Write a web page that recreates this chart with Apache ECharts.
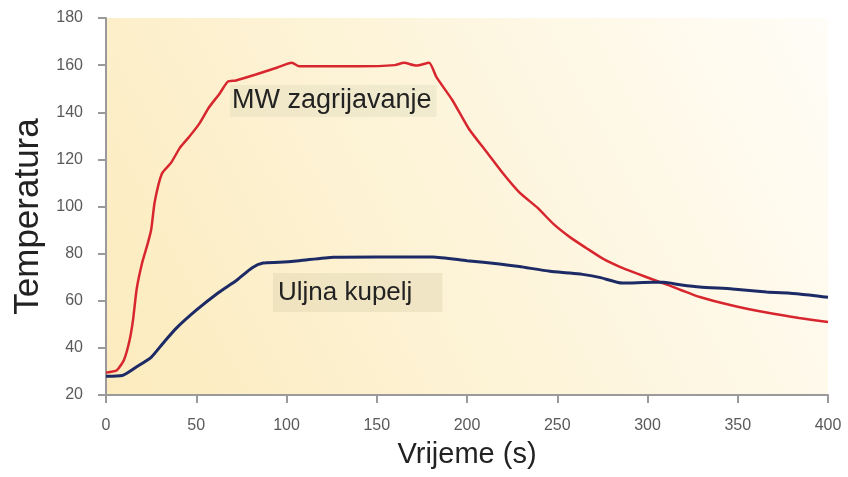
<!DOCTYPE html>
<html>
<head>
<meta charset="utf-8">
<script src="https://cdn.jsdelivr.net/npm/echarts@6/dist/echarts.min.js"></script>
<style>
  html, body { margin: 0; padding: 0; background: #fff; }
  #chart { width: 848px; height: 477px; }
</style>
</head>
<body>
<div id="chart"></div>
<script>
// MW heating curve (red)
var mwTime = [0, 6, 10, 13, 15, 17, 20, 23, 25, 27, 31, 36, 41, 46, 52, 57, 63, 67.5, 72, 83, 95, 103, 107, 120, 140, 160, 165, 172, 179, 183, 192, 201, 211, 220, 229, 239, 248, 257, 266, 275, 285, 294, 303, 312, 329, 347, 366, 384, 400];
var mwTemp = [29.5, 30.5, 35, 43, 52, 65, 76, 84, 90, 102, 114, 118.5, 125, 129.5, 135.5, 142, 148, 153, 153.5, 156, 159, 161, 159.5, 159.5, 159.5, 160, 161, 159.8, 161, 155, 145, 133, 123, 114, 106, 99.5, 92.5, 87, 82.4, 78, 74.3, 71.6, 69, 66.5, 61.6, 58, 55, 52.7, 51];

// oil bath curve (blue)
var oilTime = [0, 9, 17, 25, 31.6, 39, 50, 61.5, 72.6, 81, 87, 96, 107, 126, 150, 181, 200, 218, 229, 246, 257, 264, 274, 286, 303, 309, 318, 329, 347, 366, 384, 400];
var oilTemp = [28, 28.3, 32, 36, 42, 48.4, 56, 63, 68.8, 74, 76, 76.3, 77, 78.5, 78.6, 78.6, 77, 75.6, 74.5, 72.5, 71.8, 71.2, 69.8, 67.5, 67.8, 67.8, 66.8, 65.8, 65, 63.7, 62.9, 61.5];

var xTicks = [0, 50, 100, 150, 200, 250, 300, 350, 400];
var yTicks = [20, 40, 60, 80, 100, 120, 140, 160, 180];

// annotation anchors, in data units (left edge, vertical middle of the box)
var mwLabel = { text: 'MW zagrijavanje', at: [68.7, 144.8] };
var oilLabel = { text: 'Uljna kupelj', at: [92.5, 63.5] };

function pairs(xs, ys) {
    return xs.map(function (x, i) { return [x, ys[i]]; });
}

var chart = echarts.init(document.getElementById('chart'), null, { renderer: 'canvas' });

var axisGray = '#9a9a9a';

chart.setOption({
    animation: false,
    backgroundColor: '#fff',
    grid: {
        left: 106, right: 20, top: 18, bottom: 82,
        show: true,
        borderWidth: 0,
        backgroundColor: new echarts.graphic.LinearGradient(0, 1, 1, 0, [
            { offset: 0, color: '#fcebbd' },
            { offset: 0.5, color: '#fdf4da' },
            { offset: 1, color: '#fffdf7' }
        ])
    },
    xAxis: {
        type: 'value',
        min: xTicks[0],
        max: xTicks[xTicks.length - 1],
        interval: 50,
        name: 'Vrijeme (s)',
        nameLocation: 'middle',
        nameGap: 45,
        nameTextStyle: { fontFamily: 'Liberation Sans Narrow, Arial Narrow, Liberation Sans, sans-serif', fontSize: 29, color: '#222' },
        axisLine: { show: true, lineStyle: { color: axisGray, width: 2 } },
        axisTick: { show: true, inside: false, length: 8, lineStyle: { color: axisGray, width: 2 } },
        axisLabel: { margin: 23, fontFamily: 'Liberation Sans, Arial, sans-serif', fontSize: 16, color: '#5a5a5a' },
        splitLine: { show: false }
    },
    yAxis: {
        type: 'value',
        min: yTicks[0],
        max: yTicks[yTicks.length - 1],
        interval: 20,
        name: 'Temperatura',
        nameLocation: 'middle',
        nameGap: 60,
        nameTextStyle: {
            fontFamily: 'Liberation Sans, Arial, sans-serif', fontSize: 35, color: '#222',
            padding: [0, 20, 0, 0]
        },
        axisLine: { show: true, lineStyle: { color: axisGray, width: 2 } },
        axisTick: { show: true, inside: false, length: 8, lineStyle: { color: axisGray, width: 2 } },
        axisLabel: { margin: 23, fontFamily: 'Liberation Sans, Arial, sans-serif', fontSize: 16, color: '#5a5a5a' },
        splitLine: { show: false }
    },
    series: [
        {
            type: 'line',
            name: 'MW zagrijavanje',
            data: pairs(mwTime, mwTemp),
            showSymbol: false,
            smooth: 0.2,
            lineStyle: { color: '#d8262e', width: 2.5 },
            markPoint: {
                symbol: 'rect',
                symbolSize: 0,
                silent: true,
                data: [{ coord: mwLabel.at, value: mwLabel.text }],
                label: {
                    show: true,
                    position: 'right',
                    distance: 0,
                    formatter: mwLabel.text,
                    fontFamily: 'Liberation Sans, Arial, sans-serif',
                    fontSize: 27,
                    color: '#222',
                    backgroundColor: 'rgba(210, 208, 175, 0.28)',
                    padding: [3, 5, 2, 2]
                }
            }
        },
        {
            type: 'line',
            name: 'Uljna kupelj',
            data: pairs(oilTime, oilTemp),
            showSymbol: false,
            smooth: 0.2,
            lineStyle: { color: '#1c2a66', width: 3 },
            markPoint: {
                symbol: 'rect',
                symbolSize: 0,
                silent: true,
                data: [{ coord: oilLabel.at, value: oilLabel.text }],
                label: {
                    show: true,
                    position: 'right',
                    distance: 0,
                    formatter: oilLabel.text,
                    fontFamily: 'Liberation Sans, Arial, sans-serif',
                    fontSize: 26,
                    color: '#222',
                    backgroundColor: 'rgba(215, 205, 170, 0.35)',
                    padding: [1, 30, 12, 5]
                }
            }
        }
    ]
});

window.onresize = chart.resize;
</script>
</body>
</html>
